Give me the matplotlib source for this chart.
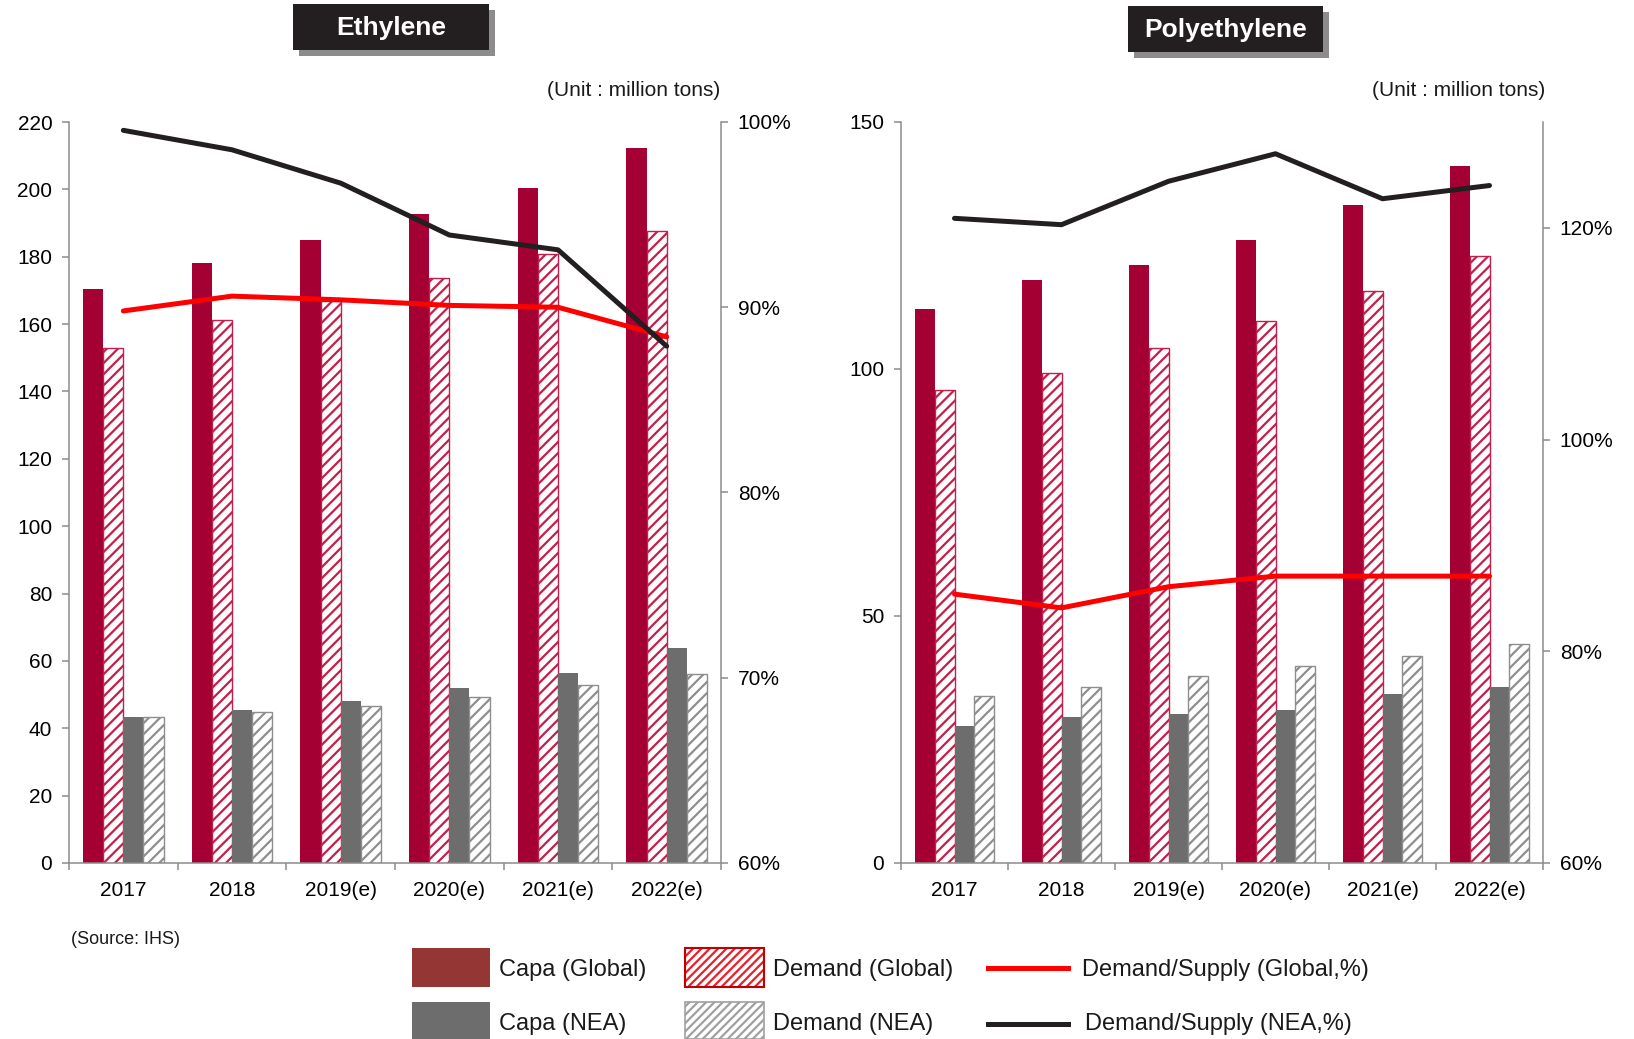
import numpy as np
import matplotlib.pyplot as plt
from matplotlib.patches import Rectangle
from matplotlib.lines import Line2D
from matplotlib.ticker import FuncFormatter

plt.rcParams['font.family'] = ['Liberation Sans', 'DejaVu Sans']
plt.rcParams['hatch.linewidth'] = 1.6

# data
years = ['2017', '2018', '2019(e)', '2020(e)', '2021(e)', '2022(e)']

eth_capa_global = [170.5, 178.2, 185.0, 192.8, 200.5, 212.3]
eth_demand_global = [152.8, 161.2, 167.0, 173.6, 180.7, 187.5]
eth_capa_nea = [43.3, 45.5, 48.0, 52.0, 56.3, 63.7]
eth_demand_nea = [43.3, 44.9, 46.7, 49.2, 52.9, 56.0]
eth_ratio_global = [89.8, 90.6, 90.4, 90.1, 90.0, 88.4]
eth_ratio_nea = [99.55, 98.5, 96.7, 93.9, 93.1, 87.9]

pe_capa_global = [112.2, 118.1, 121.1, 126.2, 133.1, 141.1]
pe_demand_global = [95.8, 99.2, 104.2, 109.7, 115.8, 122.8]
pe_capa_nea = [27.8, 29.5, 30.2, 31.0, 34.2, 35.7]
pe_demand_nea = [33.8, 35.7, 37.8, 39.9, 42.0, 44.3]
pe_ratio_global = [85.4, 84.1, 86.1, 87.1, 87.1, 87.1]
pe_ratio_nea = [120.9, 120.3, 124.4, 127.0, 122.75, 124.0]

# colours
RED_BAR = '#A50034'
RED_HATCH = '#C41E4A'
GRAY_BAR = '#6D6D6D'
GRAY_HATCH = '#8E8E8E'
SPINE = '#8C8C8C'

W, H = 1634, 1039
fig = plt.figure(figsize=(W / 100, H / 100), dpi=100)


def fx(px):
    return px / W


def fy(py):
    return 1 - py / H


def make_panel(left, right, title_box, unit_x, ymax, ystep, r_lim, r_ticks,
               capa_g, dem_g, capa_n, dem_n, ratio_g, ratio_n):
    ax = fig.add_axes([fx(left), fy(863), (right - left) / W, (863 - 122) / H])
    x = np.arange(len(years))
    bw = 0.185
    ax.bar(x - 1.5 * bw, capa_g, bw, color=RED_BAR, linewidth=0)
    ax.bar(x - 0.5 * bw, dem_g, bw, color='white', edgecolor=RED_HATCH,
           hatch='///', linewidth=1.0)
    ax.bar(x + 0.5 * bw, capa_n, bw, color=GRAY_BAR, linewidth=0)
    ax.bar(x + 1.5 * bw, dem_n, bw, color='white', edgecolor=GRAY_HATCH,
           hatch='///', linewidth=1.0)
    ax.set_xlim(-0.5, len(years) - 0.5)
    ax.set_ylim(0, ymax)
    ax.set_yticks(np.arange(0, ymax + 1, ystep))
    ax.set_xticks(x)
    ax.set_xticklabels(years)
    ax.set_xticks(np.arange(-0.5, len(years), 1), minor=True)
    ax.tick_params(axis='x', which='major', length=0, pad=13, labelsize=15)
    ax.tick_params(axis='x', which='minor', length=5, color=SPINE, width=1.1)
    ax.tick_params(axis='y', length=5, color=SPINE, width=1.1, pad=7, labelsize=15)
    for s in ['top', 'right']:
        ax.spines[s].set_visible(False)
    for s in ['left', 'bottom']:
        ax.spines[s].set_color(SPINE)
        ax.spines[s].set_linewidth(1.1)

    ax2 = ax.twinx()
    ax2.plot(x, ratio_g, color='#FF0000', linewidth=3.6, solid_capstyle='round')
    ax2.plot(x, ratio_n, color='#231F20', linewidth=3.6, solid_capstyle='round')
    ax2.set_ylim(*r_lim)
    ax2.set_yticks(r_ticks)
    ax2.yaxis.set_major_formatter(FuncFormatter(lambda v, p: f'{v:.0f}%'))
    ax2.tick_params(axis='y', length=5, color=SPINE, width=1.1, pad=7, labelsize=15)
    for s in ['top', 'left', 'bottom']:
        ax2.spines[s].set_visible(False)
    ax2.spines['right'].set_color(SPINE)
    ax2.spines['right'].set_linewidth(1.1)

    # title box with shadow
    bx0, bx1, by0, by1, label = title_box
    fig.add_artist(Rectangle((fx(bx0 + 6), fy(by1 + 6)), (bx1 - bx0) / W,
                             (by1 - by0) / H, transform=fig.transFigure,
                             facecolor='#8C8C8C', edgecolor='none'))
    fig.add_artist(Rectangle((fx(bx0), fy(by1)), (bx1 - bx0) / W,
                             (by1 - by0) / H, transform=fig.transFigure,
                             facecolor='#231F20', edgecolor='none'))
    fig.text(fx((bx0 + bx1) / 2), fy((by0 + by1) / 2 + 1), label, color='white',
             fontsize=19, fontweight='bold', ha='center', va='center')
    fig.text(fx(unit_x), fy(91), '(Unit : million tons)', fontsize=15,
             ha='right', va='center', color='#1A1A1A')
    return ax


make_panel(69, 721, (293, 489, 4, 50, 'Ethylene'), 720, 220, 20,
           (60, 100), [60, 70, 80, 90, 100],
           eth_capa_global, eth_demand_global, eth_capa_nea, eth_demand_nea,
           eth_ratio_global, eth_ratio_nea)
make_panel(901, 1543, (1128, 1323, 6, 52, 'Polyethylene'), 1545, 150, 50,
           (60, 130), [60, 80, 100, 120],
           pe_capa_global, pe_demand_global, pe_capa_nea, pe_demand_nea,
           pe_ratio_global, pe_ratio_nea)

fig.text(fx(71), fy(940), '(Source: IHS)', fontsize=13, ha='left', va='center',
         color='#1A1A1A')


# legend, drawn by hand to match the layout
def leg_patch(x0, x1, y0, y1, face, edge='none', hatch=None, lw=0):
    fig.add_artist(Rectangle((fx(x0), fy(y1)), (x1 - x0) / W, (y1 - y0) / H,
                             transform=fig.transFigure, facecolor=face,
                             edgecolor=edge, hatch=hatch, linewidth=lw))


def leg_line(x0, x1, y, color):
    fig.add_artist(Line2D([fx(x0), fx(x1)], [fy(y), fy(y)],
                          transform=fig.transFigure, color=color, linewidth=3.6))


def leg_text(x, y, s):
    fig.text(fx(x), fy(y), s, fontsize=17, ha='left', va='center', color='#1A1A1A')


leg_patch(412, 490, 948, 987, '#943634')
leg_text(499, 970, 'Capa (Global)')
leg_patch(685, 764, 948, 987, 'white', '#E8202A', '////', 0)
leg_patch(685, 764, 948, 987, 'none', '#C00000', None, 1.5)
leg_text(773, 970, 'Demand (Global)')
leg_line(988, 1068, 968, '#FF0000')
leg_text(1082, 970, 'Demand/Supply (Global,%)')

leg_patch(412, 490, 1002, 1039, GRAY_BAR)
leg_text(499, 1024, 'Capa (NEA)')
leg_patch(685, 764, 1002, 1039, 'white', '#A0A0A0', '////', 1.2)
leg_text(773, 1024, 'Demand (NEA)')
leg_line(988, 1068, 1024, '#231F20')
leg_text(1085, 1024, 'Demand/Supply (NEA,%)')

fig.savefig('out.png', dpi=100)
